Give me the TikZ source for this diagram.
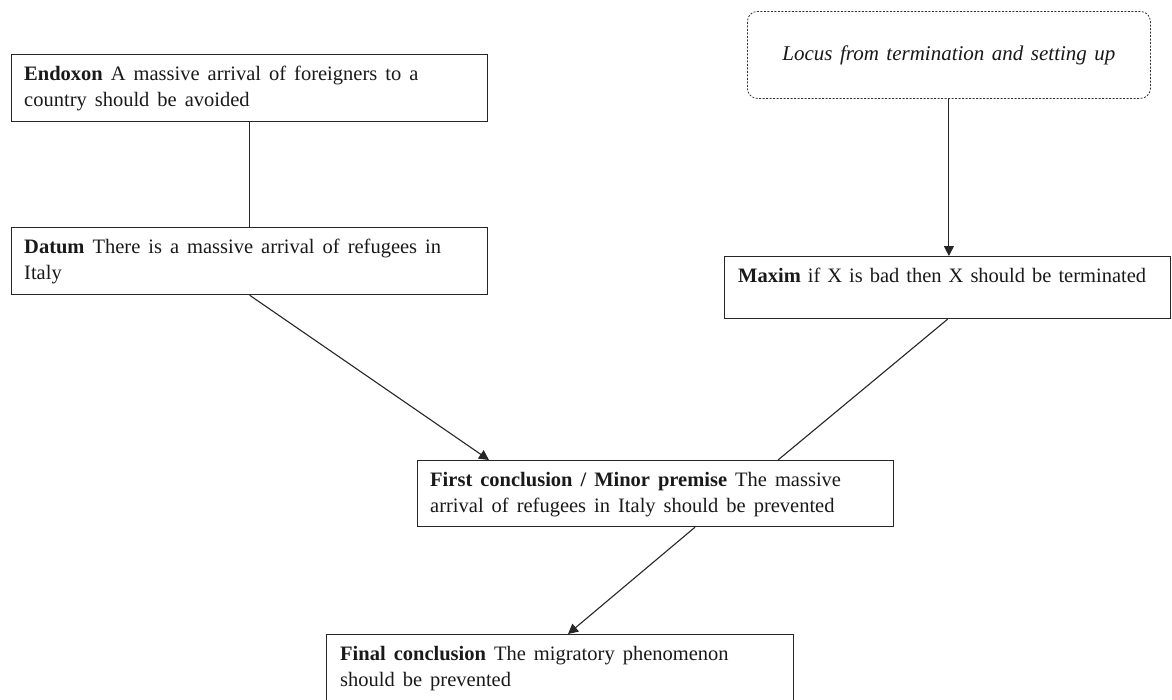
\documentclass[tikz,border=0pt]{standalone}
\usepackage{fontspec}
\setmainfont{Liberation Serif}
\usetikzlibrary{arrows.meta,calc}
\newcommand\mywsp{\spaceskip=8pt plus 1pt minus 0.5pt\relax}
\newcommand\mywspm{\spaceskip=7pt plus 1pt minus 0.5pt\relax}
\newcommand\mywspi{\spaceskip=7.5pt plus 1pt minus 0.5pt\relax}
\newcommand\mystrut{\vrule height 15pt depth 0pt width 0pt\relax}
\begin{document}
\begin{tikzpicture}[x=1pt,y=-1pt,
  boxnode/.style={draw=black!85,line width=1.2pt,rectangle,inner sep=0pt,anchor=north west},
  locusbox/.style={draw=black!80,line width=0.8pt,rectangle,rounded corners=10pt,dash pattern=on 2pt off 1.5pt,inner sep=0pt,anchor=north west},
  txt/.style={inner sep=0pt,anchor=north west,align=left,font=\fontsize{20.5}{26.5}\selectfont,text=black!90},
  conn/.style={draw=black!85,line width=1.1pt},
  arr/.style={conn,-{Triangle[length=10pt,width=10pt]}}
]
\useasboundingbox (0,0) rectangle (1172,699);
\clip (0,0) rectangle (1172,699);

% boxes
\node[boxnode,minimum width=476pt,minimum height=67pt] (endoxon) at (11,54) {};
\node[boxnode,minimum width=476pt,minimum height=67pt] (datum) at (11,227) {};
\node[locusbox,minimum width=403pt,minimum height=87pt] (locus) at (747,11) {};
\node[boxnode,minimum width=446pt,minimum height=62pt] (maxim) at (724,256) {};
\node[boxnode,minimum width=476pt,minimum height=66pt] (first) at (417,460) {};
\node[boxnode,minimum width=467pt,minimum height=100pt] (final) at (326,634) {};

% texts
\node[txt] (endoxontext) at ($(endoxon.north west)+(13,11)$) {\mywsp\mystrut\textbf{Endoxon} A massive arrival of foreigners to a\\\mywsp country should be avoided};
\node[txt] (datumtext) at ($(datum.north west)+(13,11)$) {\mywsp\mystrut\textbf{Datum} There is a massive arrival of refugees in\\Italy};
\node[txt] (maximtext) at ($(maxim.north west)+(14,11)$) {\mywspm\mystrut\textbf{Maxim} if X is bad then X should be terminated};
\node[txt] (firsttext) at ($(first.north west)+(13,11)$) {\mywsp\mystrut\textbf{First conclusion / Minor premise} The massive\\\mywsp arrival of refugees in Italy should be prevented};
\node[txt] (finaltext) at ($(final.north west)+(14,11)$) {\mywsp\mystrut\textbf{Final conclusion} The migratory phenomenon\\\mywsp should be prevented};
\node[txt,anchor=center,font=\fontsize{21}{26.5}\selectfont] (locustext) at (locus.center) {\mywspi\itshape Locus from termination and setting up};

% connectors
\draw[conn] (endoxon.south) -- (datum.north);
\draw[arr] (datum.south) -- ($(first.north west)+(72,0)$);
\draw[arr] (locus.south) -- (locus.south |- maxim.north);
\draw[conn] (maxim.south) -- ($(first.north west)+(361,0)$);
\draw[arr] ($(first.south west)+(278,0)$) -- ($(final.north west)+(242,0)$);
\end{tikzpicture}
\end{document}
